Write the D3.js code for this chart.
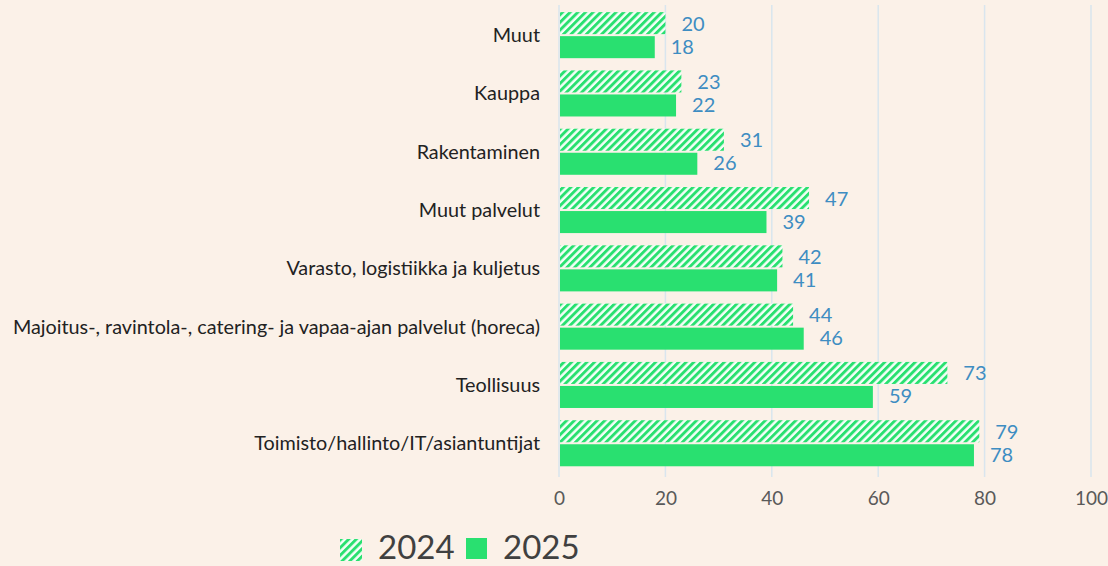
<!DOCTYPE html>
<html><head><meta charset="utf-8">
<script src="https://cdn.jsdelivr.net/npm/d3@7"></script>
<style>
html,body{margin:0;padding:0;background:#fbf1e8;}
svg{display:block;}
</style></head>
<body>
<svg id="c" width="1108" height="566"></svg>
<script>
const categories = ["Muut","Kauppa","Rakentaminen","Muut palvelut","Varasto, logistiikka ja kuljetus","Majoitus-, ravintola-, catering- ja vapaa-ajan palvelut (horeca)","Teollisuus","Toimisto/hallinto/IT/asiantuntijat"];
const values2024 = [20,23,31,47,42,44,73,79];
const values2025 = [18,22,26,39,41,46,59,78];
const seriesNames = ["2024","2025"];
const xTicks = [0,20,40,60,80,100];

const green = "#29e070";
const font = "Lato, 'Noto Sans', sans-serif";
const svg = d3.select("#c");
svg.append("rect").attr("width",1108).attr("height",566).attr("fill","#fbf1e8");

const defs = svg.append("defs");
const pw = 5.4;
const pat = defs.append("pattern").attr("id","hatch").attr("patternUnits","userSpaceOnUse")
  .attr("width",pw).attr("height",pw).attr("patternTransform","rotate(45)");
pat.append("rect").attr("width",pw).attr("height",pw).attr("fill","#f4fff8");
pat.append("rect").attr("width",2.9).attr("height",pw).attr("fill",green);

const x = d3.scaleLinear().domain([0,100]).range([559,1091]);
const y = d3.scaleBand().domain(categories).range([6,472.4]).paddingInner(0.21).paddingOuter(0.105);
const sub = d3.scaleBand().domain(seriesNames).range([0,y.bandwidth()]).padding(0);

// gridlines
svg.append("g").selectAll("line").data(xTicks).join("line")
  .attr("x1",d=>x(d)).attr("x2",d=>x(d)).attr("y1",5).attr("y2",477)
  .attr("stroke","#d9e5ee").attr("stroke-width",1.5);

// axis labels
const ax = svg.append("g").attr("transform","translate(0,498)")
  .call(d3.axisBottom(x).tickValues(xTicks).tickSize(0).tickPadding(0));
ax.select(".domain").remove();
ax.selectAll("text").attr("font-family",font).attr("font-size",19).attr("fill","#595959").attr("dy","0.35em").attr("y",0);

// category labels
svg.append("g").selectAll("text").data(categories).join("text")
  .attr("x",540).attr("y",d=>y(d)+y.bandwidth()/2).attr("dy","0.35em")
  .attr("text-anchor","end").attr("font-family",font).attr("font-size",19.8).attr("fill","#222222")
  .text(d=>d);

const rows = categories.map((c,i)=>({c, v:[values2024[i],values2025[i]]}));
const g = svg.append("g");
rows.forEach(r=>{
  seriesNames.forEach((s,j)=>{
    const v = r.v[j];
    g.append("rect").attr("x",x(0)+1).attr("y",y(r.c)+sub(s)+(j===0?0:1))
      .attr("width",x(v)-x(0)-1).attr("height",sub.bandwidth()-1)
      .attr("fill", j===0 ? "url(#hatch)" : green);
    g.append("text").attr("x",x(v)+16).attr("y",y(r.c)+sub(s)+sub.bandwidth()/2).attr("dy","0.35em")
      .attr("font-family",font).attr("font-size",20).attr("fill","#3e8dc2").text(v);
  });
});

// legend
const lg = svg.append("g");
lg.append("rect").attr("x",340).attr("y",539).attr("width",22).attr("height",22).attr("fill","url(#hatch)");
lg.append("text").attr("x",378).attr("y",559).attr("font-family",font).attr("font-size",33).attr("fill","#404040").text(seriesNames[0]);
lg.append("rect").attr("x",466).attr("y",538).attr("width",21).attr("height",21).attr("fill",green);
lg.append("text").attr("x",503).attr("y",559).attr("font-family",font).attr("font-size",33).attr("fill","#404040").text(seriesNames[1]);
</script>
</body></html>
